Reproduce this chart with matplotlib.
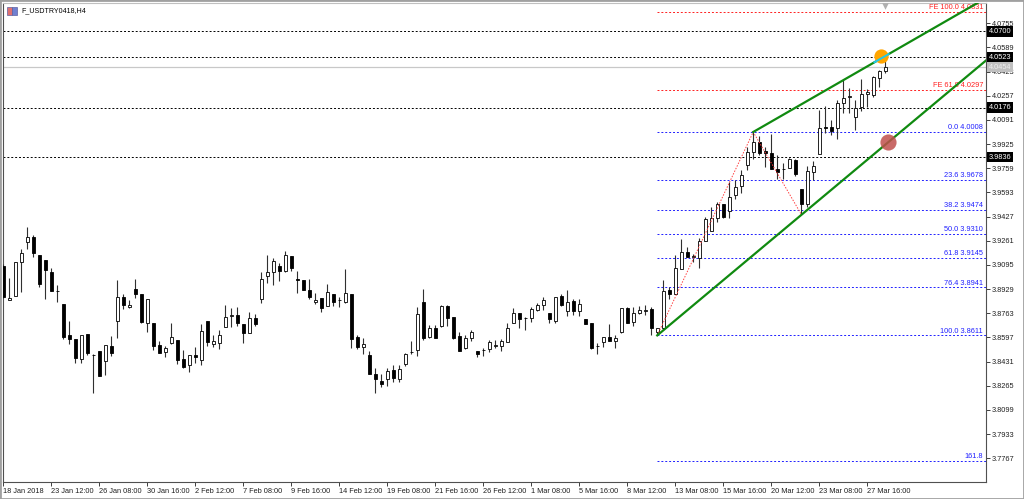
import matplotlib
matplotlib.use("Agg")
import matplotlib.pyplot as plt
import matplotlib.transforms as mtransforms
from matplotlib.patches import Rectangle

# H4 candles (bar index 0..147)
opens = [3.9090, 3.8854, 3.8884, 3.9115, 3.9253, 3.9285, 3.9163, 3.9131, 3.9044, 3.8916,
         3.8824, 3.8611, 3.8586, 3.8451, 3.8620, 3.8474, 3.8504, 3.8437, 3.8538, 3.8712,
         3.8872, 3.8804, 3.8927, 3.8893, 3.8698, 3.8694, 3.8543, 3.8499, 3.8561, 3.8579,
         3.8446, 3.8405, 3.8474, 3.8442, 3.8712, 3.8552, 3.8556, 3.8666, 3.8746, 3.8749,
         3.8689, 3.8630, 3.8728, 3.8861, 3.9019, 3.9044, 3.9085, 3.9051, 3.9156, 3.8998,
         3.8994, 3.8923, 3.8843, 3.8865, 3.8815, 3.8893, 3.8854, 3.8843, 3.8893, 3.8602,
         3.8529, 3.8476, 3.8343, 3.8298, 3.8309, 3.8373, 3.8311, 3.8414, 3.8494, 3.8511,
         3.8838, 3.8602, 3.8659, 3.8678, 3.8813, 3.8740, 3.8609, 3.8522, 3.8591, 3.8506,
         3.8511, 3.8515, 3.8540, 3.8540, 3.8563, 3.8698, 3.8762, 3.8728, 3.8733, 3.8785,
         3.8817, 3.8762, 3.8712, 3.8882, 3.8781, 3.8847, 3.8781, 3.8724, 3.8694, 3.8538,
         3.8568, 3.8600, 3.8575, 3.8636, 3.8797, 3.8701, 3.8762, 3.8781, 3.8790, 3.8632,
         3.8659, 3.8923, 3.8893, 3.9065, 3.9186, 3.9152, 3.9145, 3.9259, 3.9328, 3.9415,
         3.9511, 3.9465, 3.9575, 3.9637, 3.9781, 3.9873, 3.9942, 3.9880, 3.9862, 3.9754,
         3.9754, 3.9759, 3.9816, 3.9614, 3.9511, 3.9736, 3.9855, 4.0045, 4.0045, 4.0033,
         4.0205, 4.0251, 4.0109, 4.0178, 4.0267, 4.0262, 4.0377, 4.0427]
highs = [3.9100, 3.9003, 3.9115, 3.9202, 3.9353, 3.9301, 3.9163, 3.9131, 3.9072, 3.8957,
         3.8824, 3.8710, 3.8586, 3.8611, 3.8620, 3.8483, 3.8504, 3.8543, 3.8607, 3.8989,
         3.8893, 3.8854, 3.8998, 3.8893, 3.8861, 3.8694, 3.8570, 3.8538, 3.8698, 3.8579,
         3.8511, 3.8474, 3.8533, 3.8687, 3.8712, 3.8611, 3.8648, 3.8822, 3.8797, 3.8804,
         3.8689, 3.8774, 3.8756, 3.9049, 3.9161, 3.9140, 3.9111, 3.9193, 3.9156, 3.9051,
         3.8994, 3.8996, 3.8900, 3.8865, 3.8962, 3.8893, 3.8877, 3.9065, 3.8893, 3.8611,
         3.8591, 3.8506, 3.8385, 3.8346, 3.8385, 3.8408, 3.8408, 3.8492, 3.8572, 3.8804,
         3.8927, 3.8682, 3.8682, 3.8820, 3.8820, 3.8740, 3.8636, 3.8614, 3.8648, 3.8506,
         3.8527, 3.8579, 3.8579, 3.8584, 3.8694, 3.8797, 3.8762, 3.8735, 3.8808, 3.8836,
         3.8877, 3.8762, 3.8872, 3.8895, 3.8923, 3.8861, 3.8861, 3.8724, 3.8694, 3.8556,
         3.8598, 3.8687, 3.8614, 3.8797, 3.8804, 3.8804, 3.8813, 3.8820, 3.8804, 3.8665,
         3.8991, 3.8946, 3.9163, 3.9271, 3.9220, 3.9170, 3.9278, 3.9427, 3.9495, 3.9525,
         3.9511, 3.9667, 3.9678, 3.9747, 3.9907, 4.0008, 3.9981, 3.9907, 3.9992, 3.9850,
         3.9793, 3.9827, 3.9820, 3.9614, 3.9775, 3.9809, 4.0159, 4.0189, 4.0091, 4.0228,
         4.0365, 4.0308, 4.0228, 4.0372, 4.0301, 4.0393, 4.0434, 4.0526]
lows = [3.8865, 3.8854, 3.8884, 3.8911, 3.9202, 3.9152, 3.8941, 3.8859, 3.8918, 3.8843,
        3.8584, 3.8552, 3.8419, 3.8419, 3.8474, 3.8217, 3.8334, 3.8339, 3.8469, 3.8593,
        3.8790, 3.8797, 3.8865, 3.8694, 3.8634, 3.8511, 3.8488, 3.8465, 3.8552, 3.8414,
        3.8385, 3.8362, 3.8424, 3.8405, 3.8538, 3.8529, 3.8515, 3.8666, 3.8671, 3.8675,
        3.8561, 3.8630, 3.8675, 3.8836, 3.8973, 3.8955, 3.8985, 3.9044, 3.9056, 3.8904,
        3.8920, 3.8863, 3.8827, 3.8774, 3.8815, 3.8815, 3.8808, 3.8831, 3.8522, 3.8515,
        3.8483, 3.8343, 3.8213, 3.8259, 3.8263, 3.8293, 3.8293, 3.8401, 3.8483, 3.8472,
        3.8579, 3.8591, 3.8591, 3.8671, 3.8675, 3.8584, 3.8504, 3.8515, 3.8575, 3.8465,
        3.8469, 3.8499, 3.8522, 3.8506, 3.8563, 3.8698, 3.8664, 3.8648, 3.8705, 3.8779,
        3.8785, 3.8694, 3.8698, 3.8813, 3.8744, 3.8751, 3.8744, 3.8689, 3.8515, 3.8483,
        3.8529, 3.8572, 3.8522, 3.8630, 3.8694, 3.8675, 3.8758, 3.8751, 3.8614, 3.8611,
        3.8648, 3.8859, 3.8893, 3.9065, 3.9147, 3.9117, 3.9076, 3.9259, 3.9328, 3.9392,
        3.9415, 3.9420, 3.9546, 3.9587, 3.9747, 3.9820, 3.9850, 3.9770, 3.9754, 3.9683,
        3.9685, 3.9759, 3.9706, 3.9443, 3.9495, 3.9678, 3.9855, 3.9999, 3.9988, 3.9958,
        4.0136, 4.0136, 4.0022, 4.0150, 4.0182, 4.0251, 4.0320, 4.0411]
closes = [3.8872, 3.8870, 3.9115, 3.9179, 3.9285, 3.9175, 3.8964, 3.9060, 3.8918, 3.8916,
          3.8602, 3.8584, 3.8456, 3.8611, 3.8492, 3.8474, 3.8334, 3.8543, 3.8488, 3.8872,
          3.8820, 3.8822, 3.8893, 3.8701, 3.8861, 3.8540, 3.8488, 3.8522, 3.8602, 3.8442,
          3.8396, 3.8474, 3.8460, 3.8639, 3.8568, 3.8575, 3.8616, 3.8735, 3.8746, 3.8698,
          3.8630, 3.8728, 3.8687, 3.9001, 3.9049, 3.9124, 3.9056, 3.9161, 3.9072, 3.8991,
          3.8920, 3.8875, 3.8854, 3.8799, 3.8911, 3.8838, 3.8854, 3.8904, 3.8584, 3.8529,
          3.8552, 3.8343, 3.8309, 3.8277, 3.8369, 3.8316, 3.8380, 3.8483, 3.8494, 3.8756,
          3.8591, 3.8664, 3.8591, 3.8813, 3.8733, 3.8591, 3.8504, 3.8595, 3.8632, 3.8483,
          3.8511, 3.8568, 3.8540, 3.8575, 3.8659, 3.8762, 3.8726, 3.8728, 3.8790, 3.8820,
          3.8854, 3.8721, 3.8872, 3.8820, 3.8838, 3.8779, 3.8824, 3.8689, 3.8522, 3.8538,
          3.8598, 3.8572, 3.8595, 3.8797, 3.8698, 3.8762, 3.8785, 3.8781, 3.8659, 3.8659,
          3.8916, 3.8893, 3.9072, 3.9186, 3.9147, 3.9152, 3.9259, 3.9408, 3.9415, 3.9511,
          3.9427, 3.9564, 3.9633, 3.9713, 3.9873, 3.9942, 3.9866, 3.9862, 3.9754, 3.9731,
          3.9754, 3.9820, 3.9717, 3.9511, 3.9740, 3.9775, 4.0033, 4.0033, 4.0015, 4.0205,
          4.0240, 4.0251, 4.0171, 4.0267, 4.0281, 4.0384, 4.0427, 4.0457]

date_labels = ["18 Jan 2018", "23 Jan 12:00", "26 Jan 08:00", "30 Jan 16:00", "2 Feb 12:00",
               "7 Feb 08:00", "9 Feb 16:00", "14 Feb 12:00", "19 Feb 08:00", "21 Feb 16:00",
               "26 Feb 12:00", "1 Mar 08:00", "5 Mar 16:00", "8 Mar 12:00", "13 Mar 08:00",
               "15 Mar 16:00", "20 Mar 12:00", "23 Mar 08:00", "27 Mar 16:00"]
price_ticks = [4.0755, 4.0589, 4.0423, 4.0257, 4.0091, 3.9925, 3.9759, 3.9593, 3.9427, 3.9261,
               3.9095, 3.8929, 3.8763, 3.8597, 3.8431, 3.8265, 3.8099, 3.7933, 3.7767]

# horizontal levels
black_levels = [4.0700, 4.0523, 4.0176, 3.9836]
bid_price = 4.0454
fib_ratios = ["0.0", "23.6", "38.2", "50.0", "61.8", "76.4", "100.0", "161.8"]
fib_prices = [4.0008, 3.9678, 3.9474, 3.9310, 3.9145, 3.8941, 3.8611, 3.7748]
fe_ratios = ["100.0", "61.8"]
fe_prices = [4.0831, 4.0297]
fib_start = 109

# zigzag and channel lines (bar index, price)
zigzag_x = [109, 125, 133]
zigzag_y = [3.8611, 4.0008, 3.9443]
upper_x = [125, 166]
upper_y = [4.0008, 4.0980]
lower_x = [109, 166]
lower_y = [3.8611, 4.0575]
orange_pt = (146.3, 4.0529)
red_pt = (147.5, 3.9940)

fig = plt.figure(figsize=(10.24, 4.99), dpi=100)
ax = fig.add_axes([3 / 1024, 17 / 499, 983 / 1024, 479 / 499])
ax.set_xlim(-0.05, 163.8)
ax.set_ylim(3.7604, 4.0894)

font = "Liberation Sans"
fs = 5.3

# levels
for p in black_levels:
    ax.axhline(p, color="black", lw=0.7, ls=(0, (2, 2)), zorder=1)
ax.axhline(bid_price, color="#c8c8c8", lw=0.9, zorder=1)
for r, p in zip(fib_ratios, fib_prices):
    ax.hlines(p, fib_start, 163.8, color="#2020ff", lw=0.7, ls=(0, (2, 2)), zorder=1)
    txt = r if r == "161.8" else f"{r} {p:.4f}"
    ax.text(163.3, p + 0.0005, txt, color="#2020ff", fontsize=fs, family=font,
            ha="right", va="bottom", zorder=2)
for r, p in zip(fe_ratios, fe_prices):
    ax.hlines(p, fib_start, 163.8, color="#ff2020", lw=0.7, ls=(0, (2, 2)), zorder=1)
    ax.text(163.3, p + 0.0005, f"FE {r} {p:.4f}", color="#ff2020", fontsize=fs,
            family=font, ha="right", va="bottom", zorder=2)

# candles
xs = list(range(len(opens)))
ax.vlines(xs, lows, highs, color="#303030", lw=0.8, zorder=3)
bottoms = [min(o, c) for o, c in zip(opens, closes)]
heights = [max(abs(c - o), 0.00025) for o, c in zip(opens, closes)]
fills = ["white" if c >= o else "black" for o, c in zip(opens, closes)]
ax.bar(xs, heights, bottom=bottoms, width=0.55, color=fills, edgecolor="black",
       linewidth=0.6, zorder=4)

# zigzag + channel
ax.plot(zigzag_x, zigzag_y, color="#ff4040", lw=0.7, ls=(0, (1.5, 1.5)), zorder=5)
ax.plot(upper_x, upper_y, color="#108a10", lw=1.6, zorder=5)
ax.plot(lower_x, lower_y, color="#108a10", lw=1.6, zorder=5)

ax.scatter([orange_pt[0]], [orange_pt[1]], s=105, color="#ffa500", zorder=6, lw=0)
slope = (upper_y[1] - upper_y[0]) / (upper_x[1] - upper_x[0])
cx = [145.2, 147.6]
ax.plot(cx, [upper_y[0] + slope * (x - upper_x[0]) for x in cx], color="#20c8e8",
        lw=1.4, zorder=7)
ax.scatter([red_pt[0]], [red_pt[1]], s=135, color="#c0504d", alpha=0.85, zorder=6, lw=0)
ax.scatter([147], [4.0870], marker="v", s=22, color="#b0b0b0", zorder=6, lw=0)

# axes styling
for sp in ax.spines.values():
    sp.set_color("#505050")
    sp.set_linewidth(0.8)
ax.spines["top"].set_color("#c0c0c0")

ax.set_xticks(range(0, 8 * len(date_labels), 8))
ax.set_xticklabels(date_labels)
ax.tick_params(axis="x", direction="out", length=3, width=0.6, pad=1.5,
               labelsize=fs, colors="#202020")
for lab in ax.get_xticklabels():
    lab.set_ha("left")
    lab.set_family(font)

ax.yaxis.tick_right()
ax.set_yticks(price_ticks)
ax.set_yticklabels([f"{p:.4f}" for p in price_ticks])
ax.tick_params(axis="y", direction="out", length=3, width=0.6, pad=1,
               labelsize=fs, colors="#202020")
for lab in ax.get_yticklabels():
    lab.set_family(font)

# price tags on the right scale
tr = mtransforms.blended_transform_factory(ax.transAxes, ax.transData)
for p in black_levels:
    ax.text(1.003, p, f"{p:.4f}", transform=tr, color="white", fontsize=fs, family=font,
            ha="left", va="center", clip_on=False, zorder=8,
            bbox=dict(boxstyle="square,pad=0.25", fc="black", ec="none"))
ax.text(1.003, bid_price, f"{bid_price:.4f}", transform=tr, color="#f0f0f0", fontsize=fs,
        family=font, ha="left", va="center", clip_on=False, zorder=8,
        bbox=dict(boxstyle="square,pad=0.25", fc="#c0c0c0", ec="none"))

# title and window frame
fig.text(21 / 1024, 1 - 11 / 499, "F_USDTRY0418,H4", fontsize=5.1, family=font,
         va="center", ha="left")
fig.patches.append(Rectangle((7 / 1024, 1 - 15 / 499), 5 / 1024, 8 / 499, fc="#e07070",
                             ec="#6060a0", lw=0.5, transform=fig.transFigure))
fig.patches.append(Rectangle((12 / 1024, 1 - 15 / 499), 5 / 1024, 8 / 499, fc="#7080d0",
                             ec="#6060a0", lw=0.5, transform=fig.transFigure))
fig.patches.append(Rectangle((0, 0), 1, 1, fill=False, ec="#a0a0a0", lw=2,
                             transform=fig.transFigure))

fig.savefig("out.png", dpi=100)
